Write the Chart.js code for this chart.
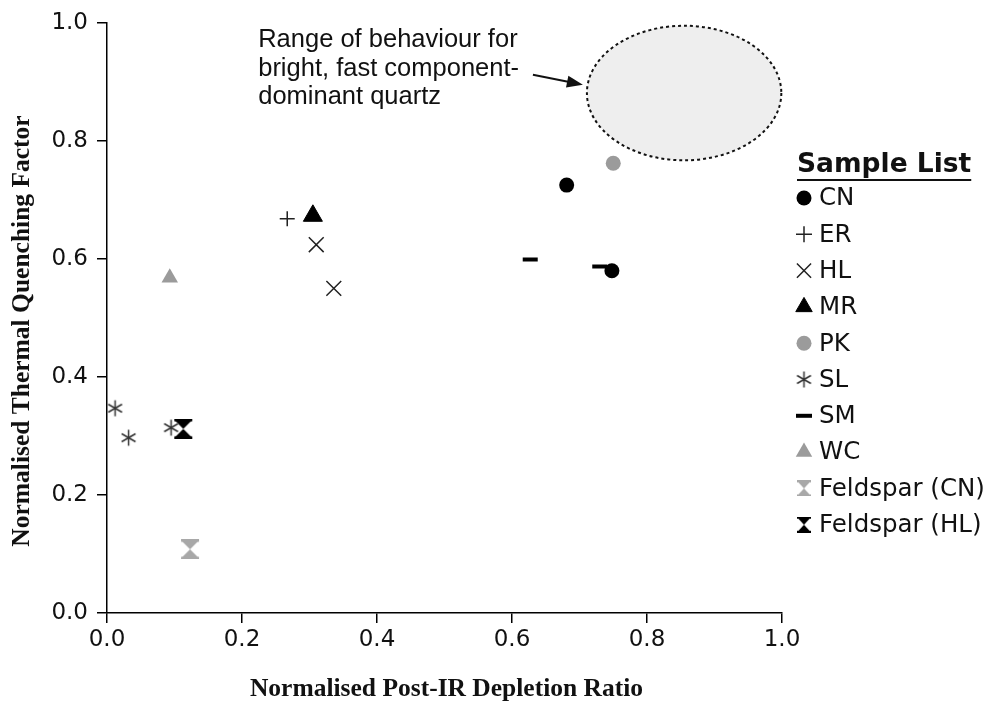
<!DOCTYPE html>
<html><head><meta charset="utf-8">
<script src="https://cdn.jsdelivr.net/npm/chart.js@4/dist/chart.umd.min.js"></script>
<style>html,body{margin:0;padding:0;background:#fff}#wrap{width:990px;height:704px}</style>
</head><body><div id="wrap"><canvas id="c" width="990" height="704"></canvas></div>
<script>
// Sample measurements: normalised post-IR depletion ratio (x) vs thermal quenching factor (y)
const cnX = [0.681, 0.748];          const cnY = [0.725, 0.580];
const erX = [0.267];                 const erY = [0.668];
const hlX = [0.310, 0.336];          const hlY = [0.624, 0.550];
const mrX = [0.305];                 const mrY = [0.673];
const pkX = [0.750];                 const pkY = [0.762];
const slX = [0.012, 0.032, 0.095];   const slY = [0.347, 0.297, 0.314];
const smX = [0.627, 0.730];          const smY = [0.599, 0.587];
const wcX = [0.093];                 const wcY = [0.568];
const fsCnX = [0.123];               const fsCnY = [0.108];
const fsHlX = [0.113];               const fsHlY = [0.312];

const axisTicks = [0, 0.2, 0.4, 0.6, 0.8, 1.0];

// Region of typical bright, fast-component-dominant quartz (data units)
const zoneCentre = [0.855, 0.881];
const zoneRadius = [0.144, 0.114];
const noteLines = ['Range of behaviour for', 'bright, fast component-', 'dominant quartz'];

function pts(xs, ys) { return xs.map((x, i) => ({x: x, y: ys[i]})); }

function makeMarker(size, draw) {
  const cv = document.createElement('canvas');
  cv.width = size; cv.height = size;
  draw(cv.getContext('2d'), size);
  return cv;
}
const asterisk = makeMarker(19, (g, s) => {
  g.strokeStyle = '#333'; g.lineWidth = 1.5;
  const c = s / 2, r = 8;
  [90, 30, 150].forEach(a => {
    const t = a * Math.PI / 180;
    g.beginPath();
    g.moveTo(c - Math.cos(t) * r, c - Math.sin(t) * r);
    g.lineTo(c + Math.cos(t) * r, c + Math.sin(t) * r);
    g.stroke();
  });
});
function hourglass(color, size) {
  return makeMarker(size, (g, s) => {
    const b = s * 0.125, m = s / 2;
    g.fillStyle = color;
    g.fillRect(1, 0, s - 2, b);
    g.fillRect(1, s - b, s - 2, b);
    g.beginPath();
    g.moveTo(2, b - 0.5); g.lineTo(s - 2, b - 0.5); g.lineTo(m, m); g.closePath(); g.fill();
    g.beginPath();
    g.moveTo(m, m); g.lineTo(s - 2, s - b + 0.5); g.lineTo(2, s - b + 0.5); g.closePath(); g.fill();
  });
}

const datasets = [
  {label: 'CN', data: pts(cnX, cnY), pointStyle: 'circle', radius: 7.5, legendRadius: 7.5, backgroundColor: '#000', borderColor: '#000', borderWidth: 0},
  {label: 'ER', data: pts(erX, erY), pointStyle: 'cross', radius: 7.5, legendRadius: 8, backgroundColor: '#000', borderColor: '#222', borderWidth: 1.5},
  {label: 'HL', data: pts(hlX, hlY), pointStyle: 'crossRot', radius: 10.5, legendRadius: 10, backgroundColor: '#000', borderColor: '#222', borderWidth: 1.5},
  {label: 'MR', data: pts(mrX, mrY), pointStyle: 'triangle', radius: 11, legendRadius: 9.5, backgroundColor: '#000', borderColor: '#000', borderWidth: 1},
  {label: 'PK', data: pts(pkX, pkY), pointStyle: 'circle', radius: 7.5, legendRadius: 7.5, backgroundColor: '#9b9b9b', borderColor: '#9b9b9b', borderWidth: 0},
  {label: 'SL', data: pts(slX, slY), pointStyle: asterisk, radius: 9, backgroundColor: '#333', borderColor: '#333'},
  {label: 'SM', data: pts(smX, smY), pointStyle: 'line', radius: 7.5, legendRadius: 8, backgroundColor: '#000', borderColor: '#000', borderWidth: 4},
  {label: 'WC', data: pts(wcX, wcY), pointStyle: 'triangle', radius: 9.5, legendRadius: 9.5, backgroundColor: '#9b9b9b', borderColor: '#9b9b9b', borderWidth: 0},
  {label: 'Feldspar (CN)', data: pts(fsCnX, fsCnY), pointStyle: hourglass('#a8a8a8', 20), legendStyle: hourglass('#a8a8a8', 16), radius: 10, backgroundColor: '#a8a8a8', borderColor: '#a8a8a8'},
  {label: 'Feldspar (HL)', data: pts(fsHlX, fsHlY), pointStyle: hourglass('#000', 20), legendStyle: hourglass('#000', 16), radius: 10, backgroundColor: '#000', borderColor: '#000'}
];

const decorations = {
  id: 'decorations',
  beforeDatasetsDraw(chart) {
    const {ctx, scales: {x, y}} = chart;
    ctx.save();
    const cx = x.getPixelForValue(zoneCentre[0]), cy = y.getPixelForValue(zoneCentre[1]);
    const rx = x.getPixelForValue(zoneCentre[0] + zoneRadius[0]) - cx;
    const ry = cy - y.getPixelForValue(zoneCentre[1] + zoneRadius[1]);
    ctx.beginPath();
    ctx.ellipse(cx, cy, rx, ry, 0, 0, Math.PI * 2);
    ctx.fillStyle = '#eeeeee'; ctx.fill();
    ctx.setLineDash([3, 3]); ctx.lineWidth = 2; ctx.strokeStyle = '#111'; ctx.stroke();
    ctx.setLineDash([]);

    // annotation text and arrow
    ctx.fillStyle = '#111';
    ctx.font = '25.5px "Liberation Sans", Arial, sans-serif';
    ctx.textBaseline = 'middle'; ctx.textAlign = 'left';
    const tx = x.getPixelForValue(0.224);
    noteLines.forEach((t, i) => ctx.fillText(t, tx, 40 + i * 28.5));
    const ax0 = x.getPixelForValue(0.631), ay0 = y.getPixelForValue(0.912);
    const ax1 = x.getPixelForValue(0.705), ay1 = y.getPixelForValue(0.895);
    const ang = Math.atan2(ay1 - ay0, ax1 - ax0);
    ctx.strokeStyle = '#111'; ctx.lineWidth = 2;
    ctx.beginPath(); ctx.moveTo(ax0, ay0);
    ctx.lineTo(ax1 - Math.cos(ang) * 10, ay1 - Math.sin(ang) * 10); ctx.stroke();
    ctx.beginPath();
    ctx.moveTo(ax1, ay1);
    ctx.lineTo(ax1 - Math.cos(ang) * 16 + Math.sin(ang) * 6, ay1 - Math.sin(ang) * 16 - Math.cos(ang) * 6);
    ctx.lineTo(ax1 - Math.cos(ang) * 16 - Math.sin(ang) * 6, ay1 - Math.sin(ang) * 16 + Math.cos(ang) * 6);
    ctx.closePath(); ctx.fill();
    ctx.restore();
  },
  afterDraw(chart) {
    const {ctx, chartArea} = chart;
    ctx.save();
    ctx.fillStyle = '#111';
    // axis titles
    ctx.font = 'bold 25.5px "Liberation Serif", "Times New Roman", serif';
    ctx.textAlign = 'center'; ctx.textBaseline = 'middle';
    ctx.fillText('Normalised Post-IR Depletion Ratio', (chartArea.left + chartArea.right) / 2 + 2, 689);
    ctx.save();
    ctx.translate(22, 331); ctx.rotate(-Math.PI / 2);
    ctx.fillText('Normalised Thermal Quenching Factor', 0, 0);
    ctx.restore();

    // legend
    ctx.textAlign = 'left';
    ctx.font = 'bold 26.5px "DejaVu Sans", sans-serif';
    const lx = 797;
    ctx.fillText('Sample List', lx, 165);
    const w = ctx.measureText('Sample List').width;
    ctx.fillRect(lx, 179, w, 2);
    ctx.font = '24.5px "DejaVu Sans", sans-serif';
    chart.data.datasets.forEach((ds, i) => {
      const yy = 198 + i * 36.3;
      ctx.fillStyle = ds.backgroundColor; ctx.strokeStyle = ds.borderColor;
      ctx.lineWidth = ds.borderWidth || 1;
      Chart.helpers.drawPoint(ctx, {pointStyle: ds.legendStyle || ds.pointStyle, radius: ds.legendRadius || ds.radius, rotation: 0, borderWidth: ds.borderWidth || 0}, 804, yy);
      ctx.fillStyle = '#111';
      ctx.fillText(ds.label, 819, yy + 1);
    });
    ctx.restore();
  }
};

const axisCommon = {
  type: 'linear', min: 0, max: 1,
  afterBuildTicks: s => { s.ticks = axisTicks.map(v => ({value: v})); },
  grid: {drawOnChartArea: false, drawTicks: true, tickLength: 10, color: '#000', lineWidth: 1.5},
  border: {display: true, color: '#000', width: 1.5},
  ticks: {color: '#111', font: {family: '"DejaVu Sans", sans-serif', size: 23}, callback: v => Number(v).toFixed(1)}
};

new Chart(document.getElementById('c'), {
  type: 'scatter',
  data: {datasets: datasets},
  options: {
    responsive: false, animation: false, devicePixelRatio: 1,
    layout: {padding: {left: 0, top: 16, right: 208, bottom: 0}},
    plugins: {legend: {display: false}, tooltip: {enabled: false}},
    scales: {
      x: Object.assign({}, axisCommon, {ticks: Object.assign({}, axisCommon.ticks, {padding: 3}), afterFit: s => { s.height = 91; }}),
      y: Object.assign({}, axisCommon, {ticks: Object.assign({}, axisCommon.ticks, {padding: 9}), afterFit: s => { s.width = 107; }})
    }
  },
  plugins: [decorations]
});
</script></body></html>
